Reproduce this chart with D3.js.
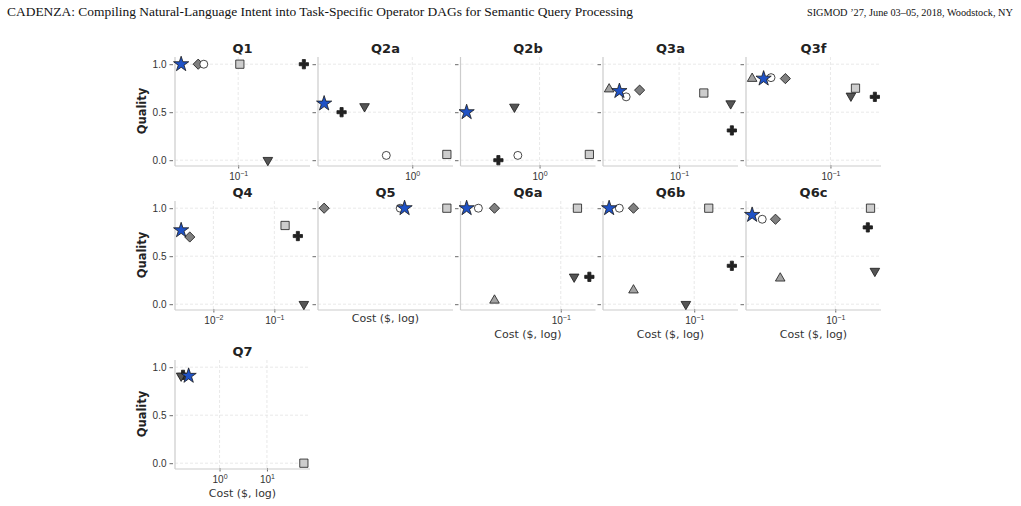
<!DOCTYPE html>
<html>
<head>
<meta charset="utf-8">
<script src="https://cdn.jsdelivr.net/npm/d3@7"></script>
<style>
  body { margin: 0; background: #fff; }
  svg { display: block; font-family: "DejaVu Sans", sans-serif; }
</style>
</head>
<body>
<svg id="chart" width="1021" height="506"></svg>
<script>

// panels, in reading order
const panels = ['Q1', 'Q2a', 'Q2b', 'Q3a', 'Q3f', 'Q4', 'Q5', 'Q6a', 'Q6b', 'Q6c', 'Q7'];

// cost ($) and quality per method, one entry per panel (null = not run)
const starCost    = [0.03, 0.19, 0.2, 0.0358, 0.0358, 0.00296, 0.0536, 0.015, 0.018, 0.0184, 0.223];
const starQual    = [1.0, 0.59, 0.5, 0.72, 0.85, 0.77, 1.0, 1.0, 1.0, 0.93, 0.91];
const circleCost  = [0.0484, 0.613, 0.619, 0.0402, 0.0401, null, 0.0508, 0.019, 0.0221, 0.0226, null];
const circleQual  = [1.0, 0.05, 0.05, 0.66, 0.86, null, 1.0, 1.0, 1.0, 0.885, null];
const diamondCost = [0.043, null, null, 0.0507, 0.050, 0.0041, 0.02, 0.0263, 0.0294, 0.0296, null];
const diamondQual = [1.0, null, null, 0.73, 0.85, 0.70, 1.0, 1.0, 1.0, 0.885, null];
const squareCost  = [0.1036, 1.92, 3.0, 0.153, 0.147, 0.15, 0.09, 0.140, 0.134, 0.205, 60];
const squareQual  = [1.0, 0.06, 0.06, 0.70, 0.75, 0.82, 1.0, 1.0, 1.0, 1.0, 0.0];
const downCost    = [0.187, 0.407, 0.574, 0.243, 0.137, 0.305, null, 0.131, 0.0845, 0.224, 0.155];
const downQual    = [0.0, 0.56, 0.555, 0.59, 0.67, 0.0, null, 0.285, 0.0, 0.345, 0.91];
const plusCost    = [0.4, 0.264, 0.403, 0.248, 0.198, 0.243, null, 0.178, 0.2135, 0.194, 0.17];
const plusQual    = [1.0, 0.5, 0.0, 0.31, 0.66, 0.71, null, 0.285, 0.40, 0.80, 0.92];
const upCost      = [null, null, null, 0.03, 0.03, null, null, 0.0263, 0.0294, 0.0326, null];
const upQual      = [null, null, null, 0.74, 0.85, null, null, 0.04, 0.146, 0.27, null];

const yTicks = [0.0, 0.5, 1.0];

// drawing order: later ones sit on top
const methods = [
  { key: 'up',      cost: upCost,      qual: upQual,      type: d3.symbolTriangle, size: 40, rot: 0,   fill: '#a3a3a3' },
  { key: 'plus',    cost: plusCost,    qual: plusQual,    type: d3.symbolCross,    size: 48, rot: 0,   fill: '#222222' },
  { key: 'down',    cost: downCost,    qual: downQual,    type: d3.symbolTriangle, size: 40, rot: 180, fill: '#555555' },
  { key: 'square',  cost: squareCost,  qual: squareQual,  type: d3.symbolSquare,   size: 68, rot: 0,   fill: '#cdcdcd' },
  { key: 'diamond', cost: diamondCost, qual: diamondQual, type: d3.symbolSquare,   size: 52, rot: 45,  fill: '#808080' },
  { key: 'circle',  cost: circleCost,  qual: circleQual,  type: d3.symbolCircle,   size: 50, rot: 0,   fill: '#ffffff' },
  { key: 'star',    cost: starCost,    qual: starQual,    type: d3.symbolStar,     size: 72, rot: 0,   fill: '#1f52c6' }
];

const svg = d3.select('#chart');

// page header
svg.append('text').attr('x', 7).attr('y', 16)
  .attr('font-family', '"Liberation Serif", serif').attr('font-size', 12)
  .attr('textLength', 626).attr('lengthAdjust', 'spacingAndGlyphs').attr('fill', '#111')
  .text('CADENZA: Compiling Natural-Language Intent into Task-Specific Operator DAGs for Semantic Query Processing');
svg.append('text').attr('x', 1013).attr('y', 16).attr('text-anchor', 'end')
  .attr('font-family', '"Liberation Serif", serif').attr('font-size', 10.3).attr('fill', '#111')
  .text('SIGMOD \u201927, June 03\u201305, 2018, Woodstock, NY');

const colLeft = [175, 318, 460.5, 603, 746];
const rowTop = [57, 201, 360];
const W = 135, H = 108;

panels.forEach((name, i) => {
  const row = Math.floor(i / 5), col = i % 5;
  const x0 = colLeft[col], y0 = rowTop[row];
  const bottomOfCol = (row === 1 && col > 0) || row === 2;

  // matplotlib-style 5% margins in log space
  const costs = methods.map(m => m.cost[i]).filter(v => v != null);
  const lmin = Math.log10(d3.min(costs)), lmax = Math.log10(d3.max(costs));
  const pad = (lmax - lmin) * 0.05;
  const x = d3.scaleLog().domain([10 ** (lmin - pad), 10 ** (lmax + pad)]).range([x0, x0 + W]);
  const y = d3.scaleLinear().domain([-0.05, 1.075]).range([y0 + H, y0]);

  const decades = d3.range(Math.ceil(lmin - pad), Math.floor(lmax + pad) + 1).map(k => 10 ** k);

  const g = svg.append('g');

  // grid
  g.selectAll('line.hg').data(yTicks).join('line')
    .attr('x1', x0).attr('x2', x0 + W).attr('y1', d => y(d)).attr('y2', d => y(d))
    .attr('stroke', '#e3e3e3').attr('stroke-width', 0.8).attr('stroke-dasharray', '3,2');
  g.selectAll('line.vg').data(decades).join('line')
    .attr('x1', d => x(d)).attr('x2', d => x(d)).attr('y1', y0).attr('y2', y0 + H)
    .attr('stroke', '#e3e3e3').attr('stroke-width', 0.8).attr('stroke-dasharray', '3,2');

  // axes
  const xAxis = d3.axisBottom(x).tickValues(decades).tickSize(3.5).tickPadding(2).tickFormat('');
  const gx = g.append('g').attr('transform', `translate(0,${y0 + H})`).call(xAxis);
  gx.select('.domain').remove();
  gx.selectAll('.tick line').attr('stroke', '#444').attr('stroke-width', 0.8);
  gx.selectAll('.tick text')
    .attr('font-size', 10).attr('fill', '#333').attr('dy', '0.95em')
    .each(function(d) {
      const t = d3.select(this).text('');
      t.append('tspan').text('10');
      t.append('tspan').attr('font-size', 7).attr('dy', '-0.55em')
        .text(String(Math.round(Math.log10(d))).replace('-', '\u2212'));
    });

  const yAxis = d3.axisLeft(y).tickValues(yTicks).tickSize(3.5).tickPadding(3)
    .tickFormat(col === 0 ? d3.format('.1f') : '');
  const gy = g.append('g').attr('transform', `translate(${x0 - 2},0)`).call(yAxis);
  gy.select('.domain').remove();
  gy.selectAll('.tick line').attr('stroke', '#444').attr('stroke-width', 0.8);
  gy.selectAll('.tick text').attr('font-size', 10).attr('fill', '#333');

  // spines
  g.append('line').attr('x1', x0).attr('x2', x0).attr('y1', y0).attr('y2', y0 + H + 1)
    .attr('stroke', '#cccccc').attr('stroke-width', 1.2);
  g.append('line').attr('x1', x0).attr('x2', x0 + W).attr('y1', y0 + H + 1).attr('y2', y0 + H + 1)
    .attr('stroke', '#cccccc').attr('stroke-width', 1.2);

  // title
  g.append('text').attr('x', x0 + W / 2).attr('y', y0 - 4).attr('text-anchor', 'middle')
    .attr('font-size', 13).attr('font-weight', 'bold').attr('fill', '#222').text(name);

  if (col === 0) {
    g.append('text').attr('transform', `translate(${x0 - 29},${y0 + H / 2}) rotate(-90)`)
      .attr('text-anchor', 'middle').attr('font-size', 11.5).attr('font-weight', 'bold')
      .attr('fill', '#222').text('Quality');
  }
  if (bottomOfCol) {
    const ly = decades.length ? y0 + H + 29 : y0 + H + 13;
    g.append('text').attr('x', x0 + W / 2).attr('y', ly).attr('text-anchor', 'middle')
      .attr('font-size', 11).attr('fill', '#333').text('Cost ($, log)');
  }

  // points
  methods.forEach(m => {
    if (m.cost[i] == null) return;
    g.append('path')
      .attr('d', d3.symbol().type(m.type).size(m.size)())
      .attr('transform', `translate(${x(m.cost[i])},${y(m.qual[i])}) rotate(${m.rot})`)
      .attr('fill', m.fill).attr('stroke', '#1a1a1a').attr('stroke-width', 0.8);
  });
});
</script>
</body>
</html>
